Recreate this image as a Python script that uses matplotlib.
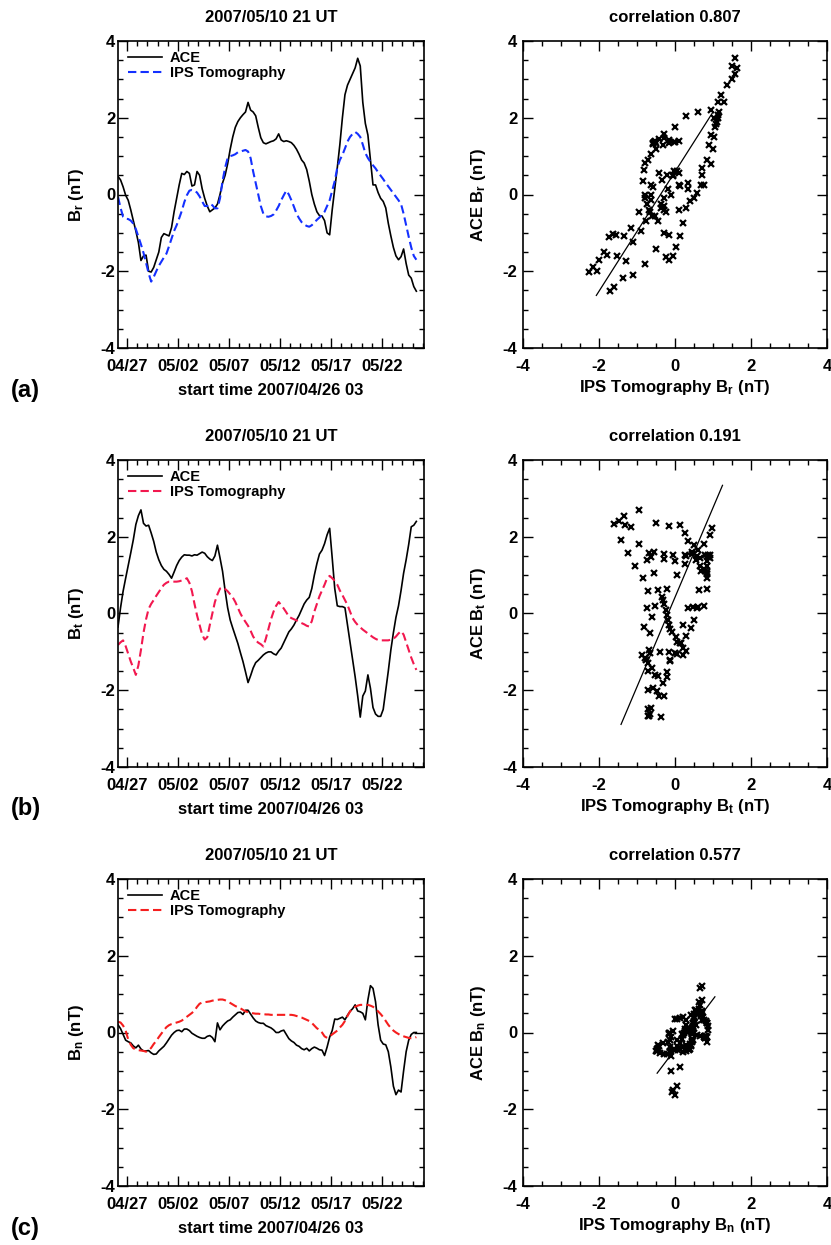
import numpy as np
import pandas as pd
import matplotlib
matplotlib.use('Agg')
import matplotlib.pyplot as plt
import matplotlib.dates as mdates
from matplotlib.ticker import MultipleLocator, FixedLocator

plt.rcParams['font.family'] = ['Liberation Sans', 'DejaVu Sans']
plt.rcParams['font.weight'] = 'bold'
plt.rcParams['mathtext.fontset'] = 'custom'
plt.rcParams['mathtext.bf'] = 'Liberation Sans:bold'
plt.rcParams['mathtext.rm'] = 'Liberation Sans:bold'
plt.rcParams['mathtext.default'] = 'bf'
plt.rcParams['axes.unicode_minus'] = False

# 6-hourly samples starting 2007/04/26 03 UT
start_time = '2007-04-26 03:00'
n_samples = 118

ace_r = [0.47, 0.38, 0.2, -0.02, -0.15, -0.4, -0.68, -0.95, -1.25, -1.72,
         -1.6, -1.58, -2.0, -2.02, -1.9, -1.7, -1.5, -1.12, -1.02, -1.05,
         -1.08, -0.86, -0.45, -0.1, 0.25, 0.55, 0.52, 0.6, 0.55, 0.22,
         0.25, 0.6, 0.5, 0.15, -0.1, -0.3, -0.45, -0.4, -0.35, -0.25,
         0.0, 0.3, 0.5, 0.8, 1.18, 1.5, 1.75, 1.9, 2.0, 2.08,
         2.15, 2.4, 2.2, 2.15, 2.05, 1.75, 1.48, 1.35, 1.32, 1.35,
         1.38, 1.4, 1.45, 1.58, 1.42, 1.38, 1.4, 1.38, 1.35, 1.28,
         1.18, 1.05, 0.9, 0.82, 0.65, 0.35, 0.0, -0.25, -0.45, -0.55,
         -0.56, -0.68, -1.0, -1.05, -0.4, 0.15, 0.7, 1.3, 2.0, 2.6,
         2.85, 3.0, 3.15, 3.3, 3.55, 3.35, 2.4, 1.85, 1.55, 0.9,
         0.25, 0.25, 0.05, -0.1, -0.18, -0.35, -0.75, -1.08, -1.38, -1.6,
         -1.7, -1.62, -1.42, -1.8, -2.1, -2.18, -2.4, -2.52]
ips_r = [-0.06, -0.35, -0.58, -0.63, -0.64, -0.68, -0.76, -0.9, -1.1, -1.3,
         -1.52, -1.78, -2.05, -2.27, -2.15, -2.0, -1.86, -1.75, -1.64, -1.54,
         -1.35, -1.15, -0.95, -0.8, -0.62, -0.43, -0.2, -0.02, 0.1, 0.12,
         0.1, 0.05, -0.05, -0.18, -0.3, -0.3, -0.24, -0.28, -0.36, -0.36,
         -0.1, 0.35, 0.7, 0.95, 1.0, 1.02, 1.05, 1.1, 1.12, 1.14,
         1.16, 1.12, 0.95, 0.6, 0.3, 0.0, -0.3, -0.5, -0.57, -0.58,
         -0.56, -0.52, -0.42, -0.3, -0.15, -0.02, 0.1, 0.0, -0.15, -0.32,
         -0.5, -0.62, -0.72, -0.78, -0.82, -0.84, -0.8, -0.73, -0.66, -0.6,
         -0.53, -0.45, -0.3, -0.15, 0.1, 0.35, 0.7, 0.9, 1.03, 1.2,
         1.38, 1.5, 1.58, 1.63, 1.58, 1.5, 1.3, 1.08, 0.95, 0.85,
         0.76, 0.68, 0.58, 0.49, 0.4, 0.3, 0.21, 0.12, 0.03, -0.06,
         -0.15, -0.25, -0.5, -0.8, -1.1, -1.38, -1.6, -1.7]

ace_t = [-0.35, 0.15, 0.58, 0.92, 1.25, 1.58, 1.92, 2.32, 2.55, 2.7,
         2.35, 2.28, 2.3, 2.1, 1.88, 1.6, 1.4, 1.25, 1.15, 1.1,
         1.02, 0.92, 1.08, 1.25, 1.38, 1.47, 1.53, 1.52, 1.52, 1.5,
         1.53, 1.52, 1.56, 1.6, 1.57, 1.48, 1.42, 1.38, 1.5, 1.78,
         1.45, 1.1, 0.6, 0.15, -0.17, -0.38, -0.58, -0.78, -1.02, -1.25,
         -1.52, -1.8, -1.62, -1.42, -1.28, -1.22, -1.15, -1.08, -1.03, -1.0,
         -1.0, -1.05, -1.08, -0.98, -0.9, -0.76, -0.62, -0.48, -0.4, -0.3,
         -0.17, -0.05, 0.1, 0.25, 0.35, 0.42, 0.65, 1.0, 1.3, 1.55,
         1.65, 1.82, 2.05, 2.22, 1.45, 0.65, 0.2, 0.18, 0.18, 0.15,
         -0.3, -0.75, -1.2, -1.65, -2.15, -2.7, -2.15, -2.02, -1.6, -1.95,
         -2.45, -2.62, -2.68, -2.68, -2.5, -2.0, -1.5, -0.95, -0.5, -0.1,
         0.2, 0.6, 1.05, 1.4, 1.8, 2.26, 2.3, 2.4]
ips_t = [-0.82, -0.75, -0.7, -0.85, -1.05, -1.25, -1.42, -1.6, -1.35, -0.95,
         -0.5, -0.15, 0.12, 0.25, 0.35, 0.46, 0.56, 0.66, 0.75, 0.8,
         0.83, 0.83, 0.83, 0.83, 0.84, 0.86, 0.88, 0.92, 0.8, 0.58,
         0.25, -0.05, -0.3, -0.55, -0.68, -0.62, -0.3, 0.0, 0.3, 0.5,
         0.65, 0.68, 0.64, 0.58, 0.5, 0.42, 0.3, 0.15, 0.0, -0.12,
         -0.22, -0.32, -0.45, -0.6, -0.7, -0.76, -0.8, -0.86, -0.65, -0.4,
         -0.15, 0.05, 0.2, 0.3, 0.22, 0.13, 0.03, -0.08, -0.12, -0.15,
         -0.18, -0.22, -0.25, -0.28, -0.32, -0.34, -0.2, 0.05, 0.25, 0.45,
         0.6, 0.75, 0.92, 0.98, 0.92, 0.85, 0.75, 0.6, 0.48, 0.35,
         0.22, 0.05, -0.12, -0.22, -0.3, -0.36, -0.42, -0.47, -0.52, -0.57,
         -0.62, -0.66, -0.69, -0.7, -0.7, -0.7, -0.7, -0.68, -0.66, -0.6,
         -0.52, -0.46, -0.55, -0.75, -0.95, -1.15, -1.32, -1.47]

ace_n = [0.2, 0.1, -0.05, -0.2, -0.24, -0.27, -0.35, -0.4, -0.33, -0.43,
         -0.48, -0.48, -0.47, -0.53, -0.57, -0.56, -0.48, -0.42, -0.36, -0.27,
         -0.17, -0.07, 0.0, 0.05, 0.06, 0.02, 0.09, 0.09, 0.05, -0.02,
         -0.06, -0.1, -0.13, -0.15, -0.15, -0.1, -0.08, -0.13, -0.24, 0.25,
         0.07, 0.17, 0.24, 0.3, 0.33, 0.4, 0.46, 0.52, 0.53, 0.47,
         0.58, 0.58, 0.48, 0.38, 0.3, 0.26, 0.24, 0.24, 0.18, 0.15,
         0.12, 0.07, 0.0, 0.0, 0.04, 0.06, -0.05, -0.16, -0.22, -0.26,
         -0.33, -0.36, -0.42, -0.45, -0.41, -0.48, -0.42, -0.38, -0.41, -0.45,
         -0.46, -0.6, -0.38, -0.12, 0.05, 0.35, 0.34, 0.37, 0.4, 0.33,
         0.45, 0.55, 0.62, 0.72, 0.56, 0.54, 0.5, 0.33, 0.85, 1.22,
         1.15, 0.8, 0.2, -0.2, -0.3, -0.32, -0.5, -0.9, -1.4, -1.62,
         -1.5, -1.55, -1.0, -0.5, -0.2, -0.05, 0.0, 0.0]
ips_n = [0.28, 0.26, 0.18, 0.05, -0.18, -0.32, -0.41, -0.44, -0.46, -0.47,
         -0.48, -0.5, -0.47, -0.4, -0.3, -0.22, -0.12, -0.03, 0.06, 0.14,
         0.19, 0.22, 0.24, 0.26, 0.28, 0.31, 0.36, 0.41, 0.46, 0.51,
         0.57, 0.67, 0.75, 0.78, 0.79, 0.8, 0.81, 0.83, 0.84, 0.85,
         0.86, 0.86, 0.84, 0.81, 0.77, 0.73, 0.69, 0.66, 0.63, 0.59,
         0.55, 0.53, 0.51, 0.5, 0.49, 0.49, 0.48, 0.48, 0.47, 0.47,
         0.46, 0.46, 0.46, 0.46, 0.46, 0.46, 0.46, 0.46, 0.46, 0.45,
         0.43, 0.41, 0.39, 0.36, 0.33, 0.3, 0.25, 0.18, 0.11, 0.07,
         0.0, -0.1, -0.14, -0.1, -0.05, 0.0, 0.05, 0.13, 0.2, 0.3,
         0.43, 0.55, 0.62, 0.67, 0.7, 0.72, 0.72, 0.72, 0.72, 0.7,
         0.67, 0.62, 0.55, 0.48, 0.4, 0.3, 0.2, 0.12, 0.05, 0.0,
         -0.04, -0.08, -0.1, -0.12, -0.14, -0.15, -0.15, -0.12]

# regression line end points (IPS x, ACE y)
fit_r = ([-2.07, 1.0], [-2.63, 2.15])
fit_t = ([-1.42, 1.25], [-2.89, 3.34])
fit_n = ([-0.47, 1.05], [-1.06, 0.93])

correlations = ['0.807', '0.191', '0.577']
components = ['r', 't', 'n']
panel_tags = ['(a)', '(b)', '(c)']
ips_colors = ['#1430ff', '#f2184f', '#f51e1e']
date_ticks = ['2007-04-27', '2007-05-02', '2007-05-07', '2007-05-12', '2007-05-17', '2007-05-22']
x_start, x_end = '2007-04-26 03:00', '2007-05-26 03:00'

times = pd.date_range(start_time, periods=n_samples, freq='6h')
ace_all = [ace_r, ace_t, ace_n]
ips_all = [ips_r, ips_t, ips_n]
fits = [fit_r, fit_t, fit_n]

fig = plt.figure(figsize=(8.31, 12.45), dpi=100)
W, H = 831.0, 1245.0
row_tops = [41, 460, 879]
ph = 307


def style_ticks(ax):
    ax.tick_params(which='both', direction='in', top=True, right=True, labelsize=12, width=1.0)
    ax.tick_params(which='major', length=7)
    ax.tick_params(which='minor', length=3.5)
    for s in ax.spines.values():
        s.set_linewidth(1.2)


for i in range(3):
    top = row_tops[i]
    bottom = 1 - (top + ph) / H
    c = components[i]

    # time series panel
    ax = fig.add_axes([118 / W, bottom, 306 / W, ph / H])
    ax.plot(times, ace_all[i], color='k', lw=1.2, label='ACE')
    ax.plot(times, ips_all[i], color=ips_colors[i], lw=1.5, ls=(0, (4, 2)), label='IPS Tomography')
    ax.set_xlim(pd.Timestamp(x_start), pd.Timestamp(x_end))
    ax.set_ylim(-4, 4)
    ax.xaxis.set_major_locator(FixedLocator(mdates.date2num(pd.to_datetime(date_ticks))))
    ax.xaxis.set_minor_locator(mdates.DayLocator())
    ax.xaxis.set_major_formatter(mdates.DateFormatter('%m/%d'))
    ax.yaxis.set_major_locator(MultipleLocator(2))
    ax.yaxis.set_minor_locator(MultipleLocator(0.5))
    style_ticks(ax)
    ax.tick_params(axis='x', pad=8)
    ax.tick_params(axis='y', pad=2)
    ax.set_title('2007/05/10 21 UT', fontsize=12, fontweight='bold', pad=13.5)
    ax.set_xlabel('start time 2007/04/26 03', fontsize=12, fontweight='bold', va='center')
    ax.xaxis.set_label_coords(0.5, -0.137)
    ax.set_ylabel('B$_{%s}$ (nT)' % c, fontsize=12, fontweight='bold', va='center')
    ax.yaxis.set_label_coords(-0.137, 0.5)
    ax.legend(loc='upper left', frameon=False, fontsize=10.5, handlelength=2.3,
              handletextpad=0.55, labelspacing=0.08, borderaxespad=0.3,
              bbox_to_anchor=(0.0, 1.0))

    # scatter panel
    bx = fig.add_axes([523 / W, bottom, 304 / W, ph / H])
    bx.plot(ips_all[i], ace_all[i], ls='none', marker='x', ms=4, mew=1.6, color='k')
    bx.plot(fits[i][0], fits[i][1], color='k', lw=0.9)
    bx.set_xlim(-4, 4)
    bx.set_ylim(-4, 4)
    for a in (bx.xaxis, bx.yaxis):
        a.set_major_locator(MultipleLocator(2))
        a.set_minor_locator(MultipleLocator(0.5))
    style_ticks(bx)
    bx.tick_params(axis='x', pad=8)
    bx.tick_params(axis='y', pad=4)
    bx.set_title('correlation ' + correlations[i], fontsize=12, fontweight='bold', pad=13.5)
    bx.set_xlabel('IPS Tomography B$_{%s}$ (nT)' % c, fontsize=12, fontweight='bold', va='center')
    bx.xaxis.set_label_coords(0.5, -0.128)
    bx.set_ylabel('ACE B$_{%s}$ (nT)' % c, fontsize=12, fontweight='bold', va='center')
    bx.yaxis.set_label_coords(-0.148, 0.5)

    fig.text(11 / W, 1 - (top + ph + 42) / H, panel_tags[i], fontsize=17, fontweight='bold',
             ha='left', va='center')

fig.savefig('out.png', dpi=100)
